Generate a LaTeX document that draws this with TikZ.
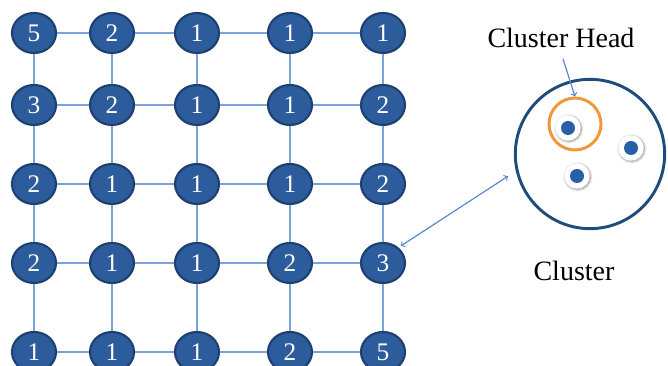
\documentclass[tikz,border=0pt]{standalone}
\usepackage{fontspec}
\setmainfont{Liberation Serif}
\usepackage{color}
\usepackage{tikz}
\usetikzlibrary{calc,positioning,arrows,shapes,shadows.blur}
\definecolor{nodeblue}{RGB}{44,92,156}
\definecolor{rimblue}{RGB}{30,64,112}
\definecolor{gridblue}{RGB}{122,164,216}
\definecolor{linkblue}{RGB}{90,138,208}
\definecolor{navy}{RGB}{31,77,122}
\definecolor{headorange}{RGB}{242,150,56}
\definecolor{dotblue}{RGB}{40,96,168}

\begin{document}
\begin{tikzpicture}[x=0.75pt,y=-0.75pt,
  sn/.style={ellipse,fill=nodeblue,draw=rimblue,line width=1.6pt,minimum width=33pt,minimum height=30pt,inner sep=0pt,text=white,font=\fontsize{19}{19}\selectfont},
  edge/.style={draw=gridblue,line width=1.4pt},
  link/.style={draw=linkblue,line width=0.9pt,>=to},
  halo/.style={circle,fill=white,minimum size=19pt,inner sep=0pt,blur shadow={shadow xshift=0.6pt,shadow yshift=-0.6pt,shadow blur steps=6,shadow opacity=45}},
  dot/.style={circle,fill=dotblue,minimum size=10.5pt,inner sep=0pt}]
              \useasboundingbox (0,0) rectangle (668,366);

              \node[sn] (a1) at (34,33) {5};
              \node[sn] (a2) at (112,33) {2};
              \node[sn] (a3) at (197,33) {1};
              \node[sn] (a4) at (290,33) {1};
              \node[sn] (a5) at (383,33) {1};

              \node[sn] (b1) at (34,105) {3};
              \node[sn] (b2) at (112,105) {2};
              \node[sn] (b3) at (197,105) {1};
              \node[sn] (b4) at (290,105) {1};
              \node[sn] (b5) at (383,105) {2};

              \node[sn] (c1) at (34,184) {2};
              \node[sn] (c2) at (112,184) {1};
              \node[sn] (c3) at (197,184) {1};
              \node[sn] (c4) at (290,184) {1};
              \node[sn] (c5) at (383,184) {2};

              \node[sn] (d1) at (34,263) {2};
              \node[sn] (d2) at (112,263) {1};
              \node[sn] (d3) at (197,263) {1};
              \node[sn] (d4) at (290,263) {2};
              \node[sn] (d5) at (383,263) {3};

              \node[sn] (e1) at (34,352) {1};
              \node[sn] (e2) at (112,352) {1};
              \node[sn] (e3) at (197,352) {1};
              \node[sn] (e4) at (290,352) {2};
              \node[sn] (e5) at (383,352) {5};

              \draw[edge] (a1) -- (a2) -- (a3) -- (a4) -- (a5);
              \draw[edge] (b1) -- (b2) -- (b3) -- (b4) -- (b5);
              \draw[edge] (c1) -- (c2) -- (c3) -- (c4) -- (c5);
              \draw[edge] (d1) -- (d2) -- (d3) -- (d4) -- (d5);
              \draw[edge] (e1) -- (e2) -- (e3) -- (e4) -- (e5);
              \draw[edge] (a1) -- (b1) -- (c1) -- (d1) -- (e1);
              \draw[edge] (a2) -- (b2) -- (c2) -- (d2) -- (e2);
              \draw[edge] (a3) -- (b3) -- (c3) -- (d3) -- (e3);
              \draw[edge] (a4) -- (b4) -- (c4) -- (d4) -- (e4);
              \draw[edge] (a5) -- (b5) -- (c5) -- (d5) -- (e5);

              \node[circle,draw=navy,line width=2.2pt,minimum size=112pt] (cl) at (590,154) {};
              \node[circle,draw=headorange,line width=2.2pt,minimum size=39pt] (ch) at (575,124) {};
              \node[halo] (h1) at (568,128) {};
              \node[dot] (s1) at (568,128) {};
              \node[halo] (h2) at (631,148) {};
              \node[dot] (s2) at (631,148) {};
              \node[halo] (h3) at (577,176) {};
              \node[dot] (s3) at (577,176) {};

              \node[font=\fontsize{21}{21}\selectfont] (hl) at (561,38) {Cluster Head};
              \node[font=\fontsize{21}{21}\selectfont] (cn) at (574,271) {Cluster};
              \draw[link,->,shorten <=5pt] (hl.south) -- (ch.north);
              \draw[link,<->,shorten <=2pt,shorten >=7pt] (d5.45) -- (cl.193);
            \end{tikzpicture}
\end{document}
